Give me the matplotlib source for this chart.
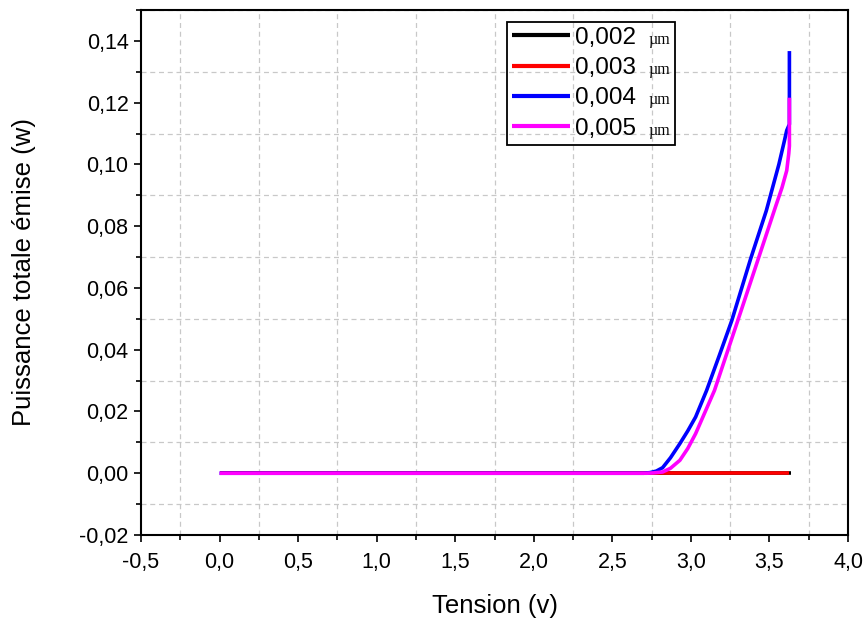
import matplotlib

matplotlib.use("Agg")
import matplotlib.pyplot as plt
from matplotlib.patches import Rectangle
from matplotlib.ticker import FuncFormatter, MultipleLocator
from matplotlib.transforms import IdentityTransform

plt.rcParams["font.family"] = ["Liberation Sans", "DejaVu Sans"]

# thickness labels (µm)
labels = ["0,002", "0,003", "0,004", "0,005"]
colors = ["black", "red", "blue", "magenta"]

# Tension (v) / Puissance totale émise (w)
v_002 = [0.0, 3.64]
p_002 = [0.0, 0.0]

v_003 = [0.0, 3.625]
p_003 = [0.0, 0.0]

v_004 = [0.0, 2.70, 2.74, 2.78, 2.82, 2.87, 2.93, 2.98, 3.03, 3.10, 3.18,
         3.26, 3.38, 3.48, 3.56, 3.595, 3.61, 3.627, 3.627]
p_004 = [0.0, 0.0, 0.0002, 0.0007, 0.0018, 0.0050, 0.0096, 0.0137, 0.0182,
         0.0268, 0.038, 0.0494, 0.0694, 0.085, 0.100, 0.1076, 0.111, 0.113,
         0.1367]

v_005 = [0.0, 2.72, 2.76, 2.82, 2.87, 2.93, 2.98, 3.03, 3.15, 3.23, 3.32,
         3.46, 3.54, 3.58, 3.61, 3.623, 3.627, 3.627]
p_005 = [0.0, 0.0, 0.0001, 0.0004, 0.0016, 0.0042, 0.0080, 0.0128, 0.0268,
         0.039, 0.0527, 0.0742, 0.0865, 0.0925, 0.098, 0.1035, 0.106, 0.1216]

series = [(v_002, p_002), (v_003, p_003), (v_004, p_004), (v_005, p_005)]

fig = plt.figure(figsize=(8.66, 6.19), dpi=100)
ax = fig.add_axes([141 / 866, 1 - 535 / 619, 707 / 866, 525 / 619])

for (v, p), lab, col in zip(series, labels, colors):
    ax.plot(v, p, color=col, linewidth=2.6, label=lab, solid_capstyle="butt",
            solid_joinstyle="round")

ax.set_xlim(-0.5, 4.0)
ax.set_ylim(-0.02, 0.15)
ax.xaxis.set_major_locator(MultipleLocator(0.5))
ax.xaxis.set_minor_locator(MultipleLocator(0.25))
ax.yaxis.set_minor_locator(MultipleLocator(0.01))
ax.set_yticks([t / 100 for t in range(-2, 15, 2)])
ax.xaxis.set_major_formatter(FuncFormatter(lambda x, _: f"{x:.1f}".replace(".", ",")))
ax.yaxis.set_major_formatter(FuncFormatter(lambda y, _: f"{y:.2f}".replace(".", ",")))

ax.grid(which="minor", color="#c8c8c8", linestyle=(0, (4, 3)), linewidth=0.9)
ax.grid(which="major", visible=False)

for side in ax.spines.values():
    side.set_linewidth(1.5)
ax.tick_params(which="both", direction="out", top=False, right=False,
               width=1.2, labelsize=15.5)
ax.tick_params(axis="x", which="major", length=5, pad=7)
ax.tick_params(axis="y", which="major", length=5, pad=4)
ax.tick_params(which="minor", length=3.5)

ax.set_xlabel("Tension (v)", fontsize=18.5, labelpad=15)
ax.set_ylabel("Puissance totale émise (w)", fontsize=18.5, labelpad=31)

leg = ax.legend(loc="upper left", bbox_to_anchor=((507 - 141) / 707, (535 - 22) / 525),
                borderaxespad=0, fontsize=17.5, frameon=False,
                handlelength=2.4, handletextpad=0.2, borderpad=0.2,
                labelspacing=0.34)
for line in leg.get_lines():
    line.set_linewidth(3)

# unit after each label, in a small serif face, then a frame round it all
fig.canvas.draw()
renderer = fig.canvas.get_renderer()
right = 0
for t in leg.get_texts():
    bb = t.get_window_extent(renderer)
    um = fig.text(bb.x0 + 73, (bb.y0 + bb.y1) / 2 - 2, "µm",
                  transform=IdentityTransform(), family="Liberation Serif",
                  fontsize=11.5, va="center", ha="left")
    right = max(right, um.get_window_extent(renderer).x1)

lb = leg.get_window_extent(renderer)
fig.add_artist(Rectangle((lb.x0, lb.y0), right + 5 - lb.x0, lb.height,
                         transform=IdentityTransform(), facecolor="none",
                         edgecolor="black", linewidth=1.3, zorder=5))

fig.savefig("out.png", dpi=100, facecolor="white")
plt.close(fig)
